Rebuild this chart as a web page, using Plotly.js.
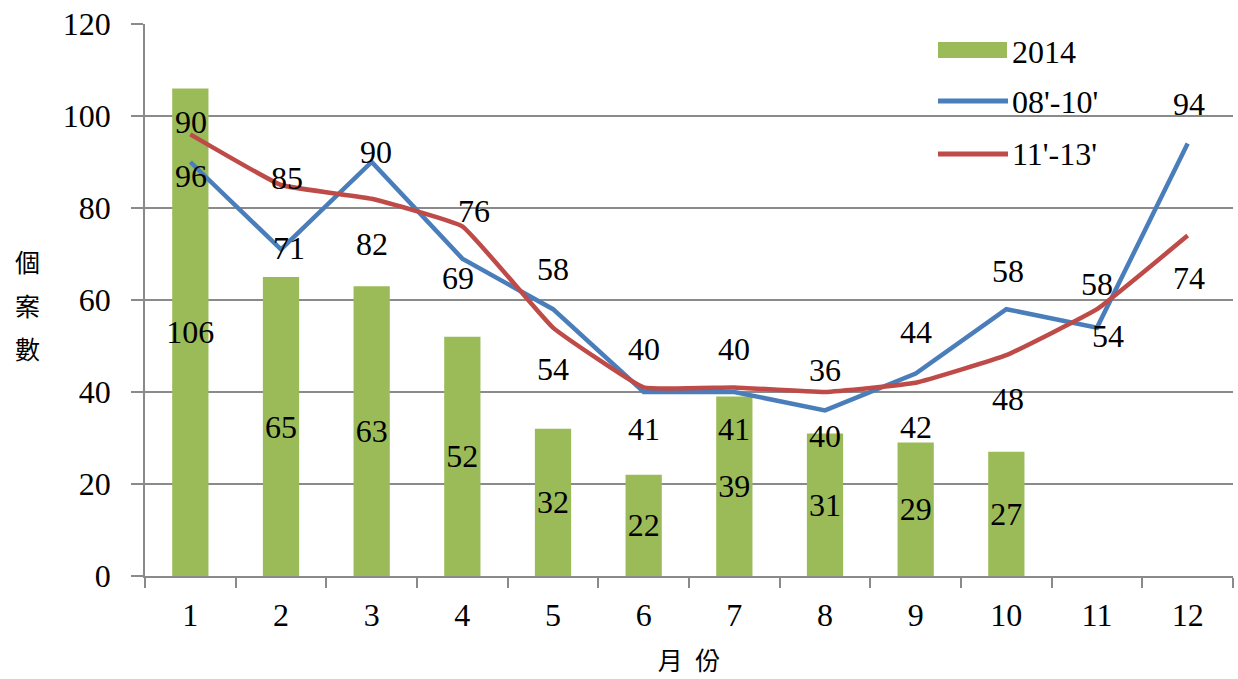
<!DOCTYPE html>
<html>
<head>
<meta charset="utf-8">
<script src="https://cdn.plot.ly/plotly-3.0.1.min.js"></script>
<style>
  html, body { margin: 0; padding: 0; background: #fff; }
  #chart { width: 1238px; height: 679px; }
  /* serif numerals everywhere; CJK glyphs fall through to Noto Sans CJK TC */
  #chart svg text { font-family: 'Liberation Serif', 'Noto Sans CJK TC', serif !important; }
</style>
</head>
<body>
<div id="chart"></div>
<script>
// Monthly case counts
const months = ['1', '2', '3', '4', '5', '6', '7', '8', '9', '10', '11', '12'];
const cases2014 = [106, 65, 63, 52, 32, 22, 39, 31, 29, 27];
const avg0810 = [90, 71, 90, 69, 58, 40, 40, 36, 44, 58, 54, 94];
const avg1113 = [96, 85, 82, 76, 54, 41, 41, 40, 42, 48, 58, 74];
const seriesNames = ['2014', "08'-10'", "11'-13'"];
const yTitleChars = ['個', '案', '數'];
const xTitle = '月\u2002份';

// Per-point label offsets [xshift, yshift] in px
const labelShift0810 = [[1, 40], [8, 1], [4, 10], [-4, -19], [0, 40], [0, 43], [0, 43], [0, 40], [0, 42], [2, 38], [11, -8], [1, 40]];
const labelShift1113 = [[1, -42], [6, 7], [0, -45], [12, 15], [0, -41], [0, -42], [0, -42], [0, -44], [0, -44], [2, -44], [0, 25], [1, -42]];

const GREEN = '#9BBB59', BLUE = '#4A7EBB', RED = '#BE4B48', GRID = '#8A8A8A';
const NUM_FONT = 'Liberation Serif';
const CJK_FONT = 'Noto Sans CJK TC';
const FS = 32;
const numFont = () => ({ family: NUM_FONT, size: FS, color: '#000' });
const cjkFont = () => ({ family: CJK_FONT, size: 25, color: '#000' });

// plot area in px: x 145..1233, y 24..576
const M = { l: 145, r: 5, t: 24, b: 103 };
const W = 1238, H = 679;
const PW = W - M.l - M.r, PH = H - M.t - M.b;
const px = x => (x - M.l) / PW;
const py = y => (H - M.b - y) / PH;

const traces = [
  {
    type: 'bar', name: seriesNames[0],
    x: months.slice(0, cases2014.length), y: cases2014,
    marker: { color: GREEN },
    text: cases2014.map(String),
    textposition: 'inside', insidetextanchor: 'middle',
    textangle: 0, constraintext: 'none',
    insidetextfont: numFont(),
    textfont: numFont(),
    showlegend: false
  },
  {
    type: 'scatter', mode: 'lines', name: seriesNames[1],
    x: months, y: avg0810,
    line: { color: BLUE, width: 4.5 },
    showlegend: false
  },
  {
    type: 'scatter', mode: 'lines', name: seriesNames[2],
    x: months, y: avg1113,
    line: { color: RED, width: 4.5, shape: 'spline', smoothing: 0.3 },
    showlegend: false
  }
];

const annotations = [];
// value labels; x is the category index on the category axis
function addLineLabels(values, shifts) {
  values.forEach((v, i) => {
    annotations.push({
      x: i, y: v, xref: 'x', yref: 'y',
      text: String(v), showarrow: false,
      xshift: shifts[i][0], yshift: shifts[i][1],
      font: numFont()
    });
  });
}
addLineLabels(avg0810, labelShift0810);
addLineLabels(avg1113, labelShift1113);

// vertical y-axis title, one character per row
const yTitleRows = [261, 305, 348];
yTitleChars.forEach((c, i) => {
  annotations.push({
    xref: 'paper', yref: 'paper', x: px(27), y: py(yTitleRows[i]),
    xanchor: 'center', yanchor: 'middle', text: c, showarrow: false,
    font: cjkFont()
  });
});

// legend
const legendRows = [52, 102, 154];
seriesNames.forEach((n, i) => {
  annotations.push({
    xref: 'paper', yref: 'paper', x: px(1010), y: py(legendRows[i]),
    xanchor: 'left', yanchor: 'middle', text: n, showarrow: false,
    font: numFont()
  });
});
const shapes = [
  { type: 'rect', xref: 'paper', yref: 'paper', x0: px(938), x1: px(1007), y0: py(58), y1: py(42),
    fillcolor: GREEN, line: { width: 0 } },
  { type: 'line', xref: 'paper', yref: 'paper', x0: px(938), x1: px(1008), y0: py(101), y1: py(101),
    line: { color: BLUE, width: 5 } },
  { type: 'line', xref: 'paper', yref: 'paper', x0: px(938), x1: px(1008), y0: py(154), y1: py(154),
    line: { color: RED, width: 5 } }
];

const layout = {
  width: W, height: H, margin: M,
  paper_bgcolor: '#fff', plot_bgcolor: '#fff',
  bargap: 0.6,
  showlegend: false,
  xaxis: {
    type: 'category', categoryarray: months, range: [-0.5, 11.5],
    showline: true, linecolor: GRID, linewidth: 1.5,
    ticks: 'outside', tickson: 'boundaries', ticklen: 10, tickcolor: GRID, tickwidth: 1.5,
    showgrid: false, zeroline: false,
    tickfont: numFont(),
    ticklabelstandoff: 10,
    title: { text: xTitle, font: cjkFont(), standoff: 20 }
  },
  yaxis: {
    range: [0, 120], dtick: 20, tick0: 0,
    showline: true, linecolor: GRID, linewidth: 1.5,
    ticks: 'outside', ticklen: 12, tickcolor: GRID, tickwidth: 1.5,
    gridcolor: GRID, gridwidth: 1.5, zeroline: false,
    tickfont: numFont(),
    ticklabelstandoff: 14
  },
  annotations: annotations,
  shapes: shapes
};

Plotly.newPlot('chart', traces, layout, { displayModeBar: false });
</script>
</body>
</html>
